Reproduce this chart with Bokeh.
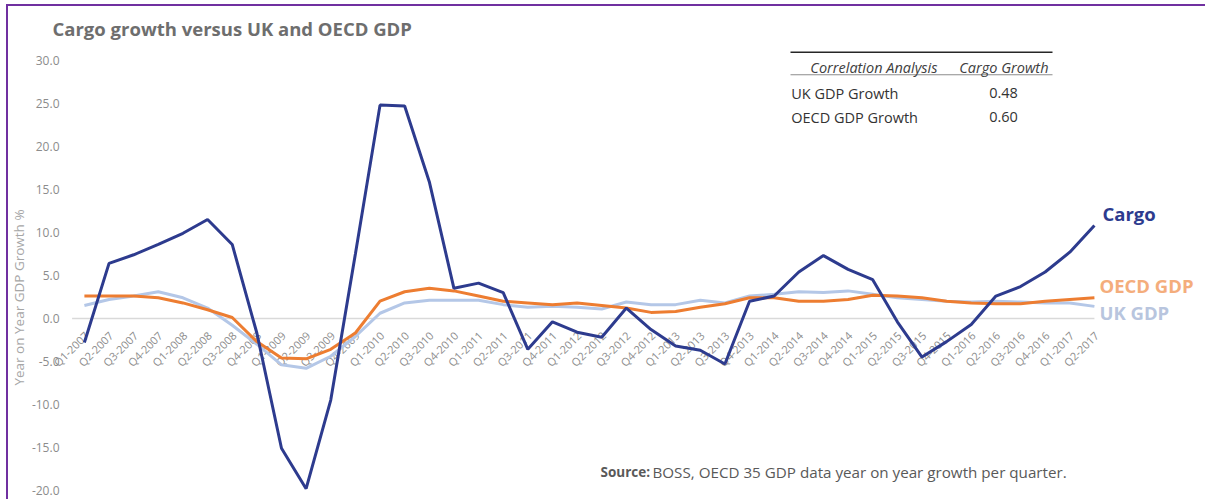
import math
from bokeh.plotting import figure
from bokeh.models import Range1d, FixedTicker, NumeralTickFormatter, Label, BoxAnnotation, ColumnDataSource
from bokeh.core.properties import value
from bokeh.embed import file_html
from bokeh.resources import INLINE

# ---------------- data ----------------
quarters = [
    "Q1-2007", "Q2-2007", "Q3-2007", "Q4-2007",
    "Q1-2008", "Q2-2008", "Q3-2008", "Q4-2008",
    "Q1-2009", "Q2-2009", "Q3-2009", "Q4-2009",
    "Q1-2010", "Q2-2010", "Q3-2010", "Q4-2010",
    "Q1-2011", "Q2-2011", "Q3-2011", "Q4-2011",
    "Q1-2012", "Q2-2012", "Q3-2012", "Q4-2012",
    "Q1-2013", "Q2-2013", "Q3-2013", "Q4-2013",
    "Q1-2014", "Q2-2014", "Q3-2014", "Q4-2014",
    "Q1-2015", "Q2-2015", "Q3-2015", "Q4-2015",
    "Q1-2016", "Q2-2016", "Q3-2016", "Q4-2016",
    "Q1-2017", "Q2-2017",
]
cargo = [
    -2.8, 6.4, 7.4, 8.6, 9.9, 11.5, 8.6, -1.7,
    -15.1, -19.8, -9.5, 7.5, 24.8, 24.7, 15.9, 3.5,
    4.1, 3.0, -3.6, -0.4, -1.6, -2.2, 1.2, -1.3,
    -3.2, -3.7, -5.3, 2.0, 2.6, 5.4, 7.3, 5.7,
    4.5, -0.4, -4.5, -2.7, -0.7, 2.6, 3.7, 5.4,
    7.7, 10.8,
]
oecd_gdp = [
    2.6, 2.6, 2.6, 2.4, 1.8, 1.0, 0.1, -2.7,
    -4.6, -4.7, -3.6, -1.7, 2.0, 3.1, 3.5, 3.2,
    2.6, 2.0, 1.8, 1.6, 1.8, 1.5, 1.2, 0.7,
    0.8, 1.3, 1.7, 2.4, 2.4, 2.0, 2.0, 2.2,
    2.7, 2.6, 2.4, 2.0, 1.8, 1.7, 1.7, 2.0,
    2.2, 2.4,
]
uk_gdp = [
    1.5, 2.2, 2.6, 3.1, 2.4, 1.2, -0.8, -3.0,
    -5.4, -5.8, -4.4, -2.1, 0.6, 1.8, 2.1, 2.1,
    2.1, 1.6, 1.3, 1.4, 1.3, 1.1, 1.9, 1.6,
    1.6, 2.1, 1.8, 2.6, 2.8, 3.1, 3.0, 3.2,
    2.8, 2.4, 2.2, 2.0, 1.9, 2.0, 1.9, 1.8,
    1.8, 1.4,
]
series_names = ["Cargo", "OECD GDP", "UK GDP"]
y_ticks = [-20, -15, -10, -5, 0, 5, 10, 15, 20, 25, 30]
corr_headers = ["Correlation Analysis", "Cargo Growth"]
corr_rows = ["UK GDP Growth", "OECD GDP Growth"]
corr_values = [0.48, 0.60]

title_text = "Cargo growth versus UK and OECD GDP"
y_title = "Year on Year GDP Growth %"
source_bold = "Source:"
source_rest = "BOSS, OECD 35 GDP data year on year growth per quarter."

# ---------------- styling ----------------
C_CARGO = "#2d3b8e"
C_OECD = "#ed7d31"
C_UK = "#b4c7e7"
FONT = "Open Sans"

x_pos = list(range(len(quarters)))
src = ColumnDataSource(dict(x=x_pos, q=quarters, cargo=cargo, oecd=oecd_gdp, uk=uk_gdp,
                            zero=[0] * len(quarters)))

p = figure(width=1199, height=495, output_backend="svg", toolbar_location=None,
           x_range=Range1d(-3.0, 45.59), y_range=Range1d(-21.29, 31.5),
           x_axis_location=None, min_border_left=2, min_border_right=0,
           min_border_bottom=0, min_border_top=40)
p.styles = {"border-left": "2px solid #7030a0", "border-top": "2px solid #7030a0",
            "margin-left": "6px", "margin-top": "4px"}
p.outline_line_color = None
p.xgrid.visible = False
p.ygrid.visible = False
p.background_fill_color = "white"
p.border_fill_color = "white"

p.title.text = title_text
p.title.align = "left"
p.title.offset = 42
p.title.standoff = 14
p.title.text_font = FONT
p.title.text_font_size = "18.5px"
p.title.text_font_style = "bold"
p.title.text_color = "#6e6e6e"

ya = p.yaxis[0]
ya.ticker = FixedTicker(ticks=y_ticks)
ya.formatter = NumeralTickFormatter(format="0.0")
ya.axis_line_color = None
ya.major_tick_line_color = None
ya.minor_tick_line_color = None
ya.major_label_standoff = -55
ya.major_label_text_font = FONT
ya.major_label_text_font_size = "12px"
ya.major_label_text_color = "#8c8c8c"

# zero line
p.segment(x0=-0.5, y0=0, x1=x_pos[-1], y1=0, line_color="#d9d9d9", line_width=1.5)

# category labels along the zero line
p.text(x="x", y="zero", text="q", source=src, angle=math.radians(45),
       text_align="right", text_baseline="middle", x_offset=2, y_offset=15,
       text_font=value(FONT), text_font_size="11px", text_color="#8c8c8c")

# series
p.line("x", "uk", source=src, line_color=C_UK, line_width=3)
p.line("x", "oecd", source=src, line_color=C_OECD, line_width=3)
p.line("x", "cargo", source=src, line_color=C_CARGO, line_width=3)

# end-of-series labels
last = x_pos[-1]
lbl = dict(text_align="left", text_baseline="middle", text_font=value(FONT),
           text_font_size="18.5px", text_font_style="bold")
p.text(x=[last], y=[cargo[-1]], text=[series_names[0]], x_offset=8, y_offset=-12,
       text_color=C_CARGO, **lbl)
p.text(x=[last], y=[oecd_gdp[-1]], text=[series_names[1]], x_offset=5, y_offset=-12,
       text_color="#f4ad7c", **lbl)
p.text(x=[last], y=[uk_gdp[-1]], text=[series_names[2]], x_offset=5, y_offset=6,
       text_color="#b8c5de", **lbl)

# y axis title
p.add_layout(Label(x=8, y=204, x_units="screen", y_units="screen", text=y_title,
                   angle=math.pi / 2, text_align="center", text_baseline="middle",
                   text_font=FONT, text_font_size="13.5px", text_color="#a6a6a6"))

# correlation table
p.add_layout(BoxAnnotation(left=780, right=1042, bottom=448.5, top=450.1,
                           left_units="screen", right_units="screen",
                           top_units="screen", bottom_units="screen",
                           fill_color="#262626", fill_alpha=1, line_color=None))
p.add_layout(BoxAnnotation(left=780, right=1042, bottom=426.2, top=427.2,
                           left_units="screen", right_units="screen",
                           top_units="screen", bottom_units="screen",
                           fill_color="#8c8c8c", fill_alpha=1, line_color=None))
hdr = dict(x_units="screen", y_units="screen", y=434.3, text_baseline="middle",
           text_font=FONT, text_font_size="14.5px", text_font_style="italic",
           text_color="#404040")
p.add_layout(Label(x=927, text=corr_headers[0], text_align="right", **hdr))
p.add_layout(Label(x=1038, text=corr_headers[1], text_align="right", **hdr))
for row, val, yy in zip(corr_rows, corr_values, [408.3, 384.3]):
    p.add_layout(Label(x=780.7, y=yy, x_units="screen", y_units="screen", text=row,
                       text_align="left", text_baseline="middle", text_font=FONT,
                       text_font_size="14.5px", text_color="#333333"))
    p.add_layout(Label(x=993, y=yy, x_units="screen", y_units="screen", text=f"{val:.2f}",
                       text_align="center", text_baseline="middle", text_font=FONT,
                       text_font_size="14.5px", text_color="#333333"))

# source note
p.add_layout(Label(x=590, y=29.3, x_units="screen", y_units="screen", text=source_bold,
                   text_align="left", text_baseline="middle", text_font=FONT,
                   text_font_size="13.5px", text_font_style="bold", text_color="#595959"))
p.add_layout(Label(x=642, y=29.3, x_units="screen", y_units="screen", text=source_rest,
                   text_align="left", text_baseline="middle", text_font=FONT,
                   text_font_size="15.2px", text_color="#595959"))

open("out.html", "w").write(file_html(p, INLINE))
